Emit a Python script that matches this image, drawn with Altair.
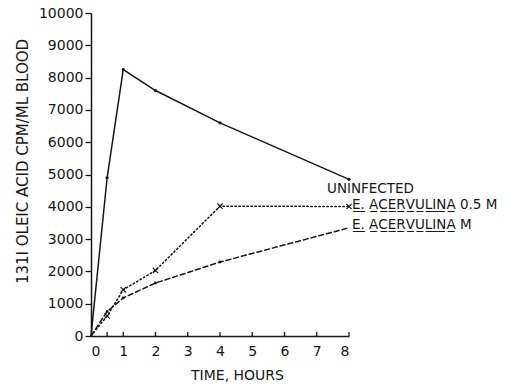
import altair as alt
import pandas as pd

# Blood radioactivity after an oral dose of 131I oleic acid
hours = [0, 0.5, 1, 2, 4, 8]
uninfected = [0, 4900, 8250, 7600, 6600, 4850]
acervulina_half_m = [0, 620, 1430, 2030, 4020, 4010]
acervulina_m = [0, 760, 1180, 1640, 2290, 3350]

x_labels = [0, 1, 2, 3, 4, 5, 6, 7, 8]
x_tick_marks = [0.5, 1, 2, 3, 4, 5, 6, 7, 8]
y_labels = list(range(0, 10001, 1000))

INK = "#161616"
FONT = "DejaVu Sans"


def series(values):
    return pd.DataFrame({"hours": hours, "cpm": values})


def underline(s):
    return "".join(c + "\u0332" for c in s)


x_scale = alt.Scale(domain=[0, 8], nice=False)
y_scale = alt.Scale(domain=[0, 10000], nice=False)
x_axis = alt.Axis(
    values=x_labels, format="d", ticks=False, labelPadding=8, labelOverlap=False,
    title="TIME, HOURS", titleX=146, titleY=43,
    titleBaseline="alphabetic", titleAlign="center",
)
y_axis = alt.Axis(
    values=y_labels, format="d", tickSize=6, labelPadding=2, labelOverlap=False,
    title="131I OLEIC ACID CPM/ML BLOOD", titleX=-69, titleY=148,
    titleAngle=270, titleBaseline="middle", titleAlign="center",
    titleFontSize=15,
)
x = alt.X("hours:Q", scale=x_scale, axis=x_axis)
y = alt.Y("cpm:Q", scale=y_scale, axis=y_axis)

line_style = dict(color=INK, strokeWidth=1.5, strokeCap="round")

solid = alt.Chart(series(uninfected)).mark_line(**line_style).encode(x=x, y=y)
solid_pts = (
    alt.Chart(series(uninfected)).transform_filter("datum.hours > 0")
    .mark_point(shape="circle", filled=True, size=10, color=INK, opacity=1)
    .encode(x=x, y=y)
)

dotted = (
    alt.Chart(series(acervulina_half_m))
    .mark_line(strokeDash=[1.5, 2.5], **line_style)
    .encode(x=x, y=y)
)
dotted_pts = (
    alt.Chart(series(acervulina_half_m)).transform_filter("datum.hours > 0")
    .mark_point(shape="M-1,-1L1,1M-1,1L1,-1", size=28, filled=False,
                color=INK, strokeWidth=1.2, opacity=1)
    .encode(x=x, y=y)
)

dashed = (
    alt.Chart(series(acervulina_m))
    .mark_line(strokeDash=[5, 3], **line_style)
    .encode(x=x, y=y)
)
dashed_pts = (
    alt.Chart(series(acervulina_m)).transform_filter("datum.hours > 0 && datum.hours < 8")
    .mark_point(shape="circle", filled=True, size=8, color=INK, opacity=1)
    .encode(x=x, y=y)
)

# short upward ticks along the time axis
ticks = (
    alt.Chart(pd.DataFrame({"hours": x_tick_marks}))
    .mark_rule(color=INK, strokeWidth=1.3)
    .encode(x=x, y=alt.YDatum(0, scale=y_scale, axis=y_axis), y2=alt.datum(125))
)

label_style = dict(align="left", baseline="middle", font=FONT, fontSize=13.5, color=INK)

lab_uninf = (
    alt.Chart(pd.DataFrame({"hours": [8], "cpm": [uninfected[-1]], "t": ["UNINFECTED"]}))
    .mark_text(dx=-22, dy=10, **label_style)
    .encode(x=x, y=y, text="t:N")
)
lab_half = (
    alt.Chart(pd.DataFrame({"hours": [8], "cpm": [acervulina_half_m[-1]],
                            "t": [underline("E.") + " " + underline("ACERVULINA") + " 0.5 M"]}))
    .mark_text(dx=3, dy=-1, **label_style)
    .encode(x=x, y=y, text="t:N")
)
lab_m = (
    alt.Chart(pd.DataFrame({"hours": [8], "cpm": [acervulina_m[-1]],
                            "t": [underline("E.") + " " + underline("ACERVULINA") + " M"]}))
    .mark_text(dx=3, dy=-2.5, **label_style)
    .encode(x=x, y=y, text="t:N")
)

chart = (
    alt.layer(solid, dotted, dashed, solid_pts, dotted_pts, dashed_pts, ticks,
              lab_uninf, lab_half, lab_m)
    .properties(
        width=258, height=323,
        autosize=alt.AutoSizeParams(type="none"),
        padding={"left": 91, "top": 13, "right": 157, "bottom": 49},
        background="white",
    )
    .configure_view(stroke=None)
    .configure_axis(
        grid=False, domainColor=INK, domainWidth=1.5, tickColor=INK, tickWidth=1.3,
        labelColor=INK, labelFont=FONT, labelFontSize=14,
        titleColor=INK, titleFont=FONT, titleFontSize=14, titleFontWeight="normal",
    )
)

chart.save("out.html", embed_options={"renderer": "svg", "actions": False})
